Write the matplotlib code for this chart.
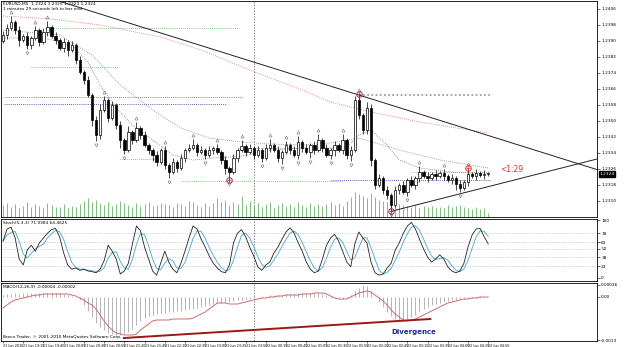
import matplotlib
matplotlib.use("Agg")
import matplotlib.pyplot as plt
import matplotlib.transforms as mtransforms
import numpy as np
import pandas as pd
from datetime import datetime, timedelta

# ---------------- data ----------------
title_text = "EURUSD,M5  1.2324 1.2325 1.2323 1.2324"
timer_text = "1 minutes 29 seconds left to bar end"
stoch_text = "Stoch(5,3,3) 71.9384 64.4625"
macd_text = "MACD(12,26,9) -0.00004 -0.00002"
copyright_text = "Broco Trader, \u00a9 2001-2010 MetaQuotes Software Corp."
countdown_text = "<1:29"
divergence_text = "Divergence"

start_time = datetime(2010, 6, 21, 18, 50)
bar_minutes = 5
first_open = 1.2390

closes = [1.2393, 1.23965, 1.23995, 1.23955, 1.23905, 1.23925, 1.2388, 1.23915, 1.23955, 1.23895,
          1.23945, 1.2397, 1.23925, 1.23905, 1.23865, 1.23895, 1.23855, 1.2388, 1.23805, 1.23745,
          1.23705, 1.2363, 1.23505, 1.2343, 1.23555, 1.23605, 1.23515, 1.2358, 1.2348, 1.23405,
          1.23355, 1.23445, 1.23405, 1.23465, 1.2343, 1.2338, 1.23355, 1.2333, 1.23295, 1.23355,
          1.2328, 1.23245, 1.23295, 1.23265, 1.23315, 1.23355, 1.23365, 1.2338, 1.23345, 1.23355,
          1.2333, 1.23355, 1.23365, 1.23345, 1.23305, 1.23265, 1.23245, 1.23315, 1.23355, 1.23375,
          1.23345, 1.23365, 1.2333, 1.23355, 1.23315, 1.23365, 1.2338, 1.23355, 1.23315, 1.23345,
          1.2338, 1.23355, 1.2333, 1.23395, 1.23365, 1.23345, 1.2338, 1.23355, 1.23405, 1.23365,
          1.2333, 1.23355, 1.2338, 1.23355, 1.23405, 1.2333, 1.23355, 1.23605, 1.2353, 1.23455,
          1.23565, 1.23305, 1.2318, 1.23215, 1.23155, 1.2313, 1.2308, 1.23155, 1.2318, 1.23145,
          1.23205, 1.2318, 1.23215, 1.23245, 1.23225, 1.23215, 1.23235, 1.23225, 1.2324, 1.23225,
          1.23205, 1.23215, 1.23185, 1.23165, 1.23195, 1.23235, 1.23225, 1.2324, 1.2323, 1.23235,
          1.23235]

# wick lengths in pips above body top / below body bottom
up_wick = [2, 2, 3, 1, 2, 1, 2, 1, 2, 1, 2, 3, 1, 2, 1, 2, 1, 2, 1, 2,
           1, 2, 1, 2, 3, 2, 1, 2, 1, 2,
           1, 3, 1, 3, 1, 2, 1, 1, 2, 1,
           2, 1, 2, 1, 2, 1, 2, 3, 1, 2,
           1, 2, 1, 2, 1, 2, 1, 2, 1, 3,
           1, 2, 1, 2, 1, 2, 3, 1, 2, 1,
           2, 1, 2, 3, 1, 2, 1, 2, 3, 1,
           2, 1, 2, 1, 3, 1, 2, 2, 3, 1,
           3, 2, 1, 2, 1, 2, 1, 2, 1, 2,
           1, 2, 1, 3, 1, 2, 1, 2, 1, 2,
           1, 2, 1, 2, 1, 3, 1, 2, 1, 2,
           1]
dn_wick = [1, 2, 1, 2, 3, 1, 2, 2, 1, 2,
           1, 2, 1, 2, 1, 2, 3, 1, 2, 1,
           2, 1, 3, 3, 2, 1, 2, 1, 2, 4,
           2, 1, 2, 1, 2, 1, 2, 3, 2, 1,
           2, 3, 1, 2, 1, 2, 1, 1, 2, 1,
           2, 1, 2, 1, 2, 3, 4, 1, 2, 1,
           2, 1, 2, 1, 2, 1, 2, 1, 2, 3,
           1, 2, 1, 2, 2, 1, 3, 2, 1, 2,
           1, 2, 3, 1, 2, 2, 3, 1, 2, 2,
           2, 3, 2, 1, 2, 2, 3, 1, 2, 1,
           2, 1, 2, 2, 1, 2, 1, 2, 1, 2,
           1, 2, 3, 2, 1, 2, 1, 2, 1, 2,
           1]

volumes = [120, 140, 100, 130, 90, 110, 150, 95, 130, 105, 85, 140, 120, 100, 95, 130, 90, 110, 100, 125,
           160, 180, 150, 170, 140, 120, 150, 110, 130, 160, 140, 120, 100, 135, 110, 125, 150, 105, 120, 140,
           130, 115, 100, 140, 125, 110, 160, 150, 120, 95, 135, 110, 140, 180, 150, 170, 120, 145, 130, 200,
           120, 160, 110, 140, 100, 130, 150, 90, 120, 140, 110, 130, 95, 150, 120, 100, 140, 110, 125, 105,
           130, 150, 115, 140, 110, 160, 190, 240, 220, 200, 180, 230, 190, 170, 160, 150, 210, 140, 130, 120,
           110, 100, 120, 90, 105, 95, 110, 85, 100, 90, 115, 95, 105, 120, 100, 90, 80, 95, 75, 85, 40]

# moving averages (bar index, price)
fast_ma_idx = [0, 10, 17, 21, 24, 28, 32, 37, 42, 47, 52, 59, 66, 74, 81, 85, 88, 91, 95, 98, 103, 111, 120]
fast_ma_val = [1.23915, 1.23915, 1.2388, 1.23795, 1.2368, 1.23565, 1.2348, 1.23405, 1.2333, 1.23305, 1.23315,
               1.23325, 1.23355, 1.23365, 1.23365, 1.2337, 1.2343, 1.23455, 1.2338, 1.23305, 1.23265, 1.23245, 1.23235]
mid_ma_idx = [0, 14, 22, 29, 37, 44, 51, 59, 66, 74, 81, 88, 98, 108, 120]
mid_ma_val = [1.23955, 1.2393, 1.2383, 1.2368, 1.23555, 1.23465, 1.23415, 1.23395, 1.23385, 1.2338, 1.2339,
              1.23415, 1.23355, 1.23305, 1.23265]
slow_ma_idx = [0, 12, 24, 39, 49, 61, 74, 81, 91, 103, 120]
slow_ma_val = [1.24025, 1.2401, 1.2398, 1.2392, 1.23855, 1.23755, 1.23655, 1.23595, 1.23545, 1.23495, 1.2344]

# horizontal level segments: price, start bar, end bar, colour
lvl_price = [1.23965, 1.2377, 1.2362, 1.23585, 1.2363, 1.2331, 1.2320, 1.23365, 1.23245, 1.23205]
lvl_start = [10.5, 7, 0.2, 0.2, 88, 29, 44, 58, 101, 81]
lvl_end = [58, 28.5, 59, 55.5, 120.5, 40, 84, 84, 120.5, 120.5]
lvl_color = ['#60b060', '#60b060', '#a04040', '#303090', '#9a8aa8', '#60b060', '#60b060', '#60b060',
             '#60b060', '#303090']
lvl_width = [0.6, 0.6, 0.6, 0.6, 1.2, 0.6, 0.6, 0.6, 0.6, 0.6]

# trend lines (bar index, price)
upper_trend = [(10.6, 1.2412), (88.0, 1.2363)]
lower_trend = [(96.3, 1.2305), (146.9, 1.2331)]

# marked swing points
swing_idx = [56, 88, 96, 115]
swing_side = ['low', 'high', 'low', 'high']
swing_color = ['#a0306a', '#a0306a', '#a0306a', '#e03030']

separator_bar = 62
current_price = 1.23235

stoch_k = [65, 85, 88, 70, 35, 25, 50, 58, 48, 62, 70, 78, 84, 86, 72, 45, 25, 18, 20, 16,
           18, 15, 14, 12, 18, 32, 58, 48, 35, 10, 15, 28, 60, 90, 82, 55, 35, 15, 8, 28,
           48, 30, 18, 12, 28, 48, 70, 90, 85, 68, 55, 40, 28, 20, 14, 12, 25, 62, 78, 84,
           72, 55, 40, 22, 16, 25, 30, 45, 55, 68, 80, 87, 78, 62, 48, 30, 18, 12, 15, 35,
           58, 70, 76, 65, 48, 30, 22, 60, 80, 70, 62, 30, 12, 8, 10, 20, 28, 50, 62, 78,
           90, 96, 85, 68, 52, 38, 30, 35, 42, 35, 22, 15, 12, 15, 28, 55, 75, 85, 86, 72,
           60]
stoch_levels = [78, 63, 52, 38, 23]

# MACD in points (1 point = 0.00001)
macd_hist = [6, 9, 9, 12, 9, 12, 12, 12, 9, 12, 12, 12, 12, 12, 12, 9, 6, 3, 0,
             -9, -24, -42, -60, -78, -90, -99, -108, -111, -114, -114, -111, -105, -96, -84, -72, -63, -57, -54, -51,
             -48, -48,
             -45, -45, -42, -42, -39, -36, -36, -33, -30, -27, -24, -21, -18, -18, -15, -15, -12, -9, -9, -6,
             -6, -3, 0, 3, 3, 6, 6, 6, 6, 9, 9, 9, 12, 12, 12, 12, 12, 12, 9, 6, 3, 0, -3, -6, -3,
             6, 18, 27, 36, 33, 18, 0, -15, -30, -45, -57, -66, -69, -69, -66,
             -60, -54, -45, -36, -30, -24, -21, -18, -15, -12, -9, -9, -6, -6, -3, -3, -3, -3, 0, 0]
macd_signal = [-33, -24, -15, -9, -6, -3, 0, 3, 6, 6, 9, 9, 9, 9, 9, 9, 9, 6, 3,
               -3, -9, -18, -24, -36, -54, -72, -87, -99, -108, -111, -114, -114, -114, -111, -99, -90, -81, -72,
               -69, -69, -69,
               -69, -66, -66, -66, -66, -66, -63, -57, -51, -45, -36, -27, -18, -18, -18, -21, -21, -21, -18, -15,
               -12, -9, -6, -3, -3, 0, 0, 3, 3, 6, 6, 6, 6, 9, 9, 9, 12, 12, 12, 9, 3, -3, -6, -6, -6,
               0, 6, 12, 15, 18, 15, 6, -3, -12, -24, -39, -51, -60, -69, -72,
               -69, -66, -60, -54, -48, -42, -36, -30, -24, -18, -15, -12, -9, -6, -6, -3, -3, 0, 0, 0]
divergence_idx = [29.9, 105.7]
divergence_val = [-123, -66]
macd_ticks = [36, 0, -130]
macd_ticklabels = ["0.00036", "0.00", "-0.0013"]

price_ticks = [1.2406, 1.2398, 1.2390, 1.2382, 1.2374, 1.2366, 1.2358, 1.2350, 1.2342, 1.2334, 1.2326,
               1.2318, 1.2310]

# ---------------- derived ----------------
n = len(closes)
idx = np.arange(n)
closes = np.array(closes)
opens = np.concatenate([[first_open], closes[:-1]])
highs = np.maximum(opens, closes) + np.array(up_wick) * 0.0001
lows = np.minimum(opens, closes) - np.array(dn_wick) * 0.0001
stoch_d = pd.Series(stoch_k).rolling(3, min_periods=1).mean().values
times = [start_time + timedelta(minutes=bar_minutes * i) for i in range(n)]
tick_idx = list(range(0, n, 5))
tick_labels = ["21 Jun 2010" if i == 0 else times[i].strftime("%d %b %H:%M") for i in tick_idx]

# ---------------- figure ----------------
W, H = 625, 347
fig = plt.figure(figsize=(W / 100, H / 100), dpi=100)
fig.patch.set_facecolor('white')

left = 1 / W
width = 596 / W
ax = fig.add_axes([left, 1 - 217 / H, width, 216 / H])
axs = fig.add_axes([left, 1 - 281 / H, width, 62 / H], sharex=ax)
axm = fig.add_axes([left, 1 - 341 / H, width, 58 / H], sharex=ax)

# volume (twin axis under candles)
vax = ax.twinx()
vax.set_ylim(0, 2100)
vax.set_yticks([])
vax.vlines(idx, 0, volumes, color='#7fbf7f', lw=0.7)
for s in vax.spines.values():
    s.set_visible(False)
ax.set_zorder(vax.get_zorder() + 1)
ax.patch.set_visible(False)

xmin, xmax = -0.5, 146.9
fs = 3.1
for a in (ax, axs, axm):
    a.set_xlim(xmin, xmax)
    for s in a.spines.values():
        s.set_linewidth(0.6)
        s.set_color('black')
    a.yaxis.tick_right()
    a.yaxis.set_label_position('right')
    a.tick_params(axis='y', which='both', left=False, labelleft=False, right=True, labelright=True,
                  direction='out', length=2, width=0.4, labelsize=fs, pad=1)
    a.tick_params(axis='x', length=0, labelbottom=False)
    a.axvline(separator_bar, color='#555555', lw=0.5, ls=(0, (2, 2)), zorder=1)

ax.set_ylim(1.2302, 1.2410)
ax.set_yticks(price_ticks)
ax.set_yticklabels([f"{p:.4f}" for p in price_ticks])

# levels
for p, s0, s1, c, w in zip(lvl_price, lvl_start, lvl_end, lvl_color, lvl_width):
    ax.hlines(p, s0, s1, colors=c, lw=w, linestyles=(0, (1, 1.5)), zorder=2)

# moving averages
ax.plot(slow_ma_idx, slow_ma_val, color='#d07070', lw=0.6, ls=(0, (1, 1.5)), zorder=2)
ax.plot(mid_ma_idx, mid_ma_val, color='#808080', lw=0.6, ls=(0, (1, 1.5)), zorder=2)
ax.plot(fast_ma_idx, fast_ma_val, color='#7070a8', lw=0.6, ls=(0, (1, 1.5)), zorder=2)

# trend lines
ax.axline(upper_trend[0], upper_trend[1], color='#222222', lw=0.7, zorder=3)
(x0, y0), (x1, y1) = lower_trend
ax.plot([x0, x1], [y0, y1], color='#222222', lw=0.7, zorder=3)

# candles
ax.vlines(idx, lows, highs, colors='black', lw=0.5, zorder=4)
bull = closes >= opens
body_bottom = np.minimum(opens, closes)
body_h = np.maximum(np.abs(closes - opens), 0.00003)
ax.bar(idx[bull], body_h[bull], bottom=body_bottom[bull], width=0.6, color='white',
       edgecolor='black', linewidth=0.5, zorder=5)
ax.bar(idx[~bull], body_h[~bull], bottom=body_bottom[~bull], width=0.6, color='black',
       edgecolor='black', linewidth=0.5, zorder=5)

# fractals
up_fr = [i for i in range(2, n - 2) if highs[i] > max(highs[i - 2:i]) and highs[i] >= max(highs[i + 1:i + 3])]
dn_fr = [i for i in range(2, n - 2) if lows[i] < min(lows[i - 2:i]) and lows[i] <= min(lows[i + 1:i + 3])]
ax.plot(up_fr, highs[up_fr] + 0.00022, ls='none', marker='^', ms=2.2, mfc='none', mec='#707070', mew=0.4, zorder=6)
ax.plot(dn_fr, lows[dn_fr] - 0.00022, ls='none', marker='v', ms=2.2, mfc='none', mec='#707070', mew=0.4, zorder=6)

# swing circles
for i, side, c in zip(swing_idx, swing_side, swing_color):
    yv = highs[i] if side == 'high' else lows[i]
    ax.plot(i, yv, marker='o', ms=4, mfc='none', mec=c, mew=0.7, zorder=7)
    ax.plot(i, yv, marker='+', ms=2.5, color=c, mew=0.5, zorder=7)

# countdown text
ax.text(123, 1.23255, countdown_text, color='#e03030', fontsize=5.5, va='center', ha='left', zorder=8)

# current price box
trans = mtransforms.blended_transform_factory(ax.transAxes, ax.transData)
ax.text(1.004, current_price, f"{current_price:.4f}", transform=trans, fontsize=fs, color='white',
        va='center', ha='left', bbox=dict(boxstyle='square,pad=0.15', fc='black', ec='black'), zorder=9)

ax.text(0.004, 0.995, title_text, transform=ax.transAxes, fontsize=fs, va='top', ha='left')
ax.text(0.004, 0.972, timer_text, transform=ax.transAxes, fontsize=fs, va='top', ha='left')

# stochastic
axs.set_ylim(-1.7, 101.7)
for lv in stoch_levels:
    axs.axhline(lv, color='#b0b0b0', lw=0.5, ls=(0, (1, 1.5)))
axs.plot(idx, stoch_d, color='#5fb0d0', lw=0.7)
axs.plot(idx, stoch_k, color='#222222', lw=0.6)
stoch_ticks = [100] + stoch_levels + [4]
axs.set_yticks(stoch_ticks)
axs.set_yticklabels([str(v) for v in [100] + stoch_levels + [0]])
axs.text(0.004, 0.97, stoch_text, transform=axs.transAxes, fontsize=fs, va='top', ha='left')

# MACD
axm.set_ylim(-132, 42)
axm.vlines(idx, 0, macd_hist, colors='#a8a8a8', lw=0.6)
axm.plot(idx, macd_signal, color='#d06a6a', lw=0.7)
axm.plot(divergence_idx, divergence_val, color='#a01515', lw=1.4)
axm.text(101.5, -105, divergence_text, color='#1a2aa0', fontsize=5, fontweight='bold', ha='center', va='center')
axm.set_yticks(macd_ticks)
axm.set_yticklabels(macd_ticklabels)
axm.text(0.004, 0.97, macd_text, transform=axm.transAxes, fontsize=fs, va='top', ha='left')
axm.text(0.004, 0.03, copyright_text, transform=axm.transAxes, fontsize=fs, va='bottom', ha='left')

# date labels
axm.set_xticks(tick_idx)
axm.set_xticklabels(tick_labels)
axm.tick_params(axis='x', labelbottom=True, length=1.5, width=0.4, direction='out', labelsize=2.4, pad=0.5)
for lab in axm.get_xticklabels():
    lab.set_ha('left')

fig.savefig("out.png", dpi=100, facecolor='white')
